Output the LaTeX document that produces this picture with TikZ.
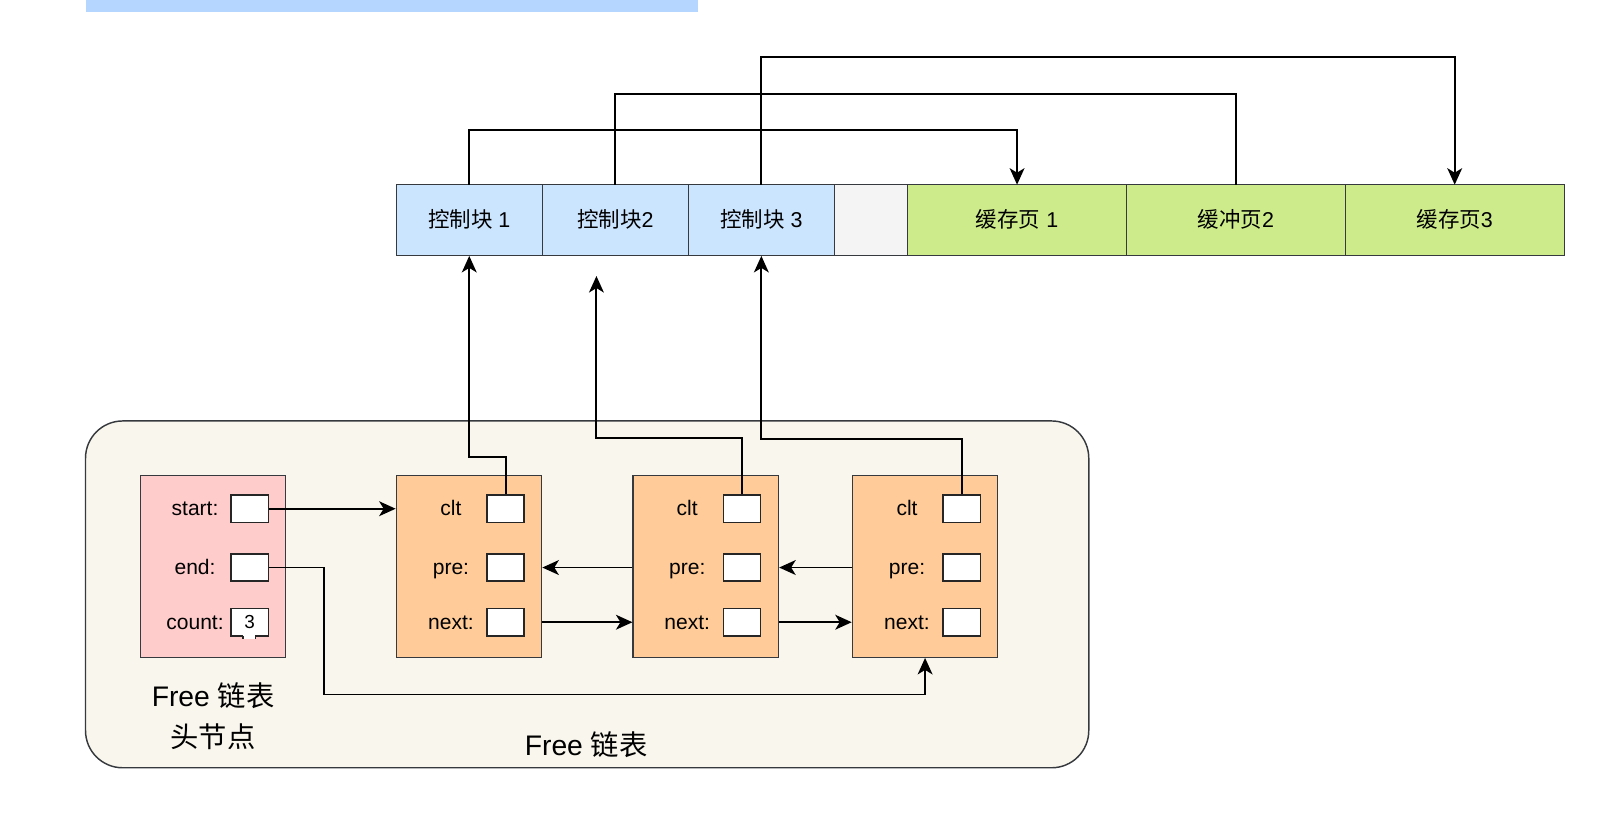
\documentclass[tikz,border=0pt]{standalone}
\usepackage{fontspec}
\setmainfont{Liberation Sans}
\newfontfamily\cjk{Noto Sans CJK SC}
\usepackage{tikz}
\usetikzlibrary{arrows.meta, positioning}
\definecolor{ctrlblue}{HTML}{CCE5FF}
\definecolor{pagegreen}{HTML}{CDEB8B}
\definecolor{gapgray}{HTML}{F4F4F4}
\definecolor{headpink}{HTML}{FFCCCC}
\definecolor{nodeorange}{HTML}{FFCC99}
\definecolor{listcream}{HTML}{F9F7ED}
\definecolor{barblue}{HTML}{B5D7FF}
\definecolor{linegray}{HTML}{36393D}
\tikzstyle{block} = [rectangle, minimum height=1.725cm, outer sep=0pt, draw=linegray, line width=0.8pt, font=\fontsize{14.8}{17}\selectfont, text height=13pt, text depth=3pt]
\tikzstyle{ctrlblock} = [block, minimum width=3.5375cm, fill=ctrlblue]
\tikzstyle{gapblock} = [block, minimum width=1.775cm, fill=gapgray]
\tikzstyle{pageblock} = [block, minimum width=5.3cm, fill=pagegreen]
\tikzstyle{listbox} = [rectangle, rounded corners=0.9cm, minimum width=24.3cm, minimum height=8.4cm, draw=linegray, line width=1pt, fill=listcream]
\tikzstyle{headnode} = [rectangle, minimum width=3.525cm, minimum height=4.4cm, draw=linegray, line width=0.8pt, fill=headpink]
\tikzstyle{listnode} = [rectangle, minimum width=3.525cm, minimum height=4.4cm, draw=linegray, line width=0.8pt, fill=nodeorange]
\tikzstyle{field} = [rectangle, minimum width=0.9cm, minimum height=0.66cm, inner sep=0pt, draw=black!85, line width=1pt, fill=white, font=\fontsize{13}{15}\selectfont]
\tikzstyle{fieldlabel} = [inner sep=0pt, font=\fontsize{14.5}{17}\selectfont, text height=13pt, text depth=3pt]
\tikzstyle{caption} = [align=center, inner sep=0pt, font=\fontsize{19.5}{27.7}\selectfont]
\tikzstyle{link} = [line width=1.3pt, black]
\tikzstyle{arrow} = [link, -{Stealth[length=0.4cm, width=0.36cm, inset=0.11cm]}]

\begin{document}
\begin{tikzpicture}[x=0.025cm, y=-0.025cm]
\useasboundingbox (0,0) rectangle (1568,787);

\fill [barblue] (83,0) rectangle (676,12);

% top row
\node (c1) [ctrlblock] at (454.75,213.5) {{\cjk 控制块} 1};
\node (c2) [ctrlblock, right=0pt of c1] {{\cjk 控制块}2};
\node (c3) [ctrlblock, right=0pt of c2] {{\cjk 控制块} 3};
\node (gap) [gapblock, right=0pt of c3] {};
\node (p1) [pageblock, right=0pt of gap] {{\cjk 缓存页} 1};
\node (p2) [pageblock, right=0pt of p1] {{\cjk 缓冲页}2};
\node (p3) [pageblock, right=0pt of p2] {{\cjk 缓存页}3};

% free list
\node (freelist) [listbox] at (569,576) {};
\node (listname) [caption] at (568,722) {Free {\cjk 链表}};

\node (head) [headnode] at (206.5,549) {};
\node (headname) [caption] at (206.5,694) {Free {\cjk 链表}\\{\cjk 头节点}};
\node (hstartlbl) [fieldlabel] at (189,493) {start:};
\node (hendlbl) [fieldlabel] at (189,550) {end:};
\node (hcountlbl) [fieldlabel] at (189,603) {count:};
\node (hstart) [field] at (242,493) {};
\node (hend) [field] at (242,550) {};
\node (hcount) [field] at (242,603) {3};
\fill [white] (235.5,614.5) rectangle (247.5,619);
\draw [black!85, line width=1pt] (235.5,616.2) -- (235.5,619.5) (247.5,616.2) -- (247.5,619.5);

\node (n1) [listnode] at (454.5,549) {};
\node (n1cltlbl) [fieldlabel] at (437,493) {clt};
\node (n1prelbl) [fieldlabel] at (437,550) {pre:};
\node (n1nextlbl) [fieldlabel] at (437,603) {next:};
\node (n1clt) [field] at (490,493) {};
\node (n1pre) [field] at (490,550) {};
\node (n1next) [field] at (490,603) {};

\node (n2) [listnode] at (684,549) {};
\node (n2cltlbl) [fieldlabel] at (666,493) {clt};
\node (n2prelbl) [fieldlabel] at (666,550) {pre:};
\node (n2nextlbl) [fieldlabel] at (666,603) {next:};
\node (n2clt) [field] at (719,493) {};
\node (n2pre) [field] at (719,550) {};
\node (n2next) [field] at (719,603) {};

\node (n3) [listnode] at (896.5,549) {};
\node (n3cltlbl) [fieldlabel] at (879,493) {clt};
\node (n3prelbl) [fieldlabel] at (879,550) {pre:};
\node (n3nextlbl) [fieldlabel] at (879,603) {next:};
\node (n3clt) [field] at (932,493) {};
\node (n3pre) [field] at (932,550) {};
\node (n3next) [field] at (932,603) {};

\coordinate (endturn) at (314,673);
\coordinate (c2tip) at (578,267.5);

% list links
\draw [arrow] (hstart) -- (n1.west |- hstart);
\draw [arrow] (hend.east) -| (endturn) -| (n3.south);
\draw [arrow] (n2.west |- n2pre) -- (n1.east |- n1pre);
\draw [arrow] (n3.west |- n3pre) -- (n2.east |- n2pre);
\draw [arrow] (n1.east |- n1next) -- (n2.west |- n1next);
\draw [arrow] (n2.east |- n2next) -- (n3.west |- n2next);

% clt to control blocks
\draw [arrow] (n1clt.north) -- ++(0,-36) -| (c1.south);
\draw [arrow] (n2clt.north) -- ++(0,-55) -| (c2tip);
\draw [arrow] (n3clt.north) -- ++(0,-54) -| (c3.south);

% control blocks to pages
\draw [arrow] (c1.north) -- ++(0,-53) -| (p1.north);
\draw [link] (c2.north) -- ++(0,-88) -| (p2.north);
\draw [arrow] (c3.north) -- ++(0,-124) -| (p3.north);

\end{tikzpicture}
\end{document}
